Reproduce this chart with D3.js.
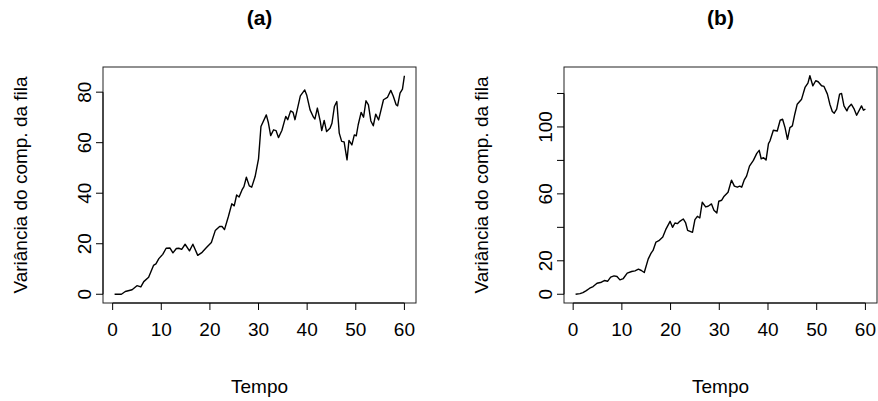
<!DOCTYPE html>
<html>
<head>
<meta charset="utf-8">
<script src="https://cdn.jsdelivr.net/npm/d3@7"></script>
<style>
  html, body { margin: 0; padding: 0; background: #fff; }
  svg { display: block; font-family: "Liberation Sans", Arial, Helvetica, sans-serif; }
</style>
</head>
<body>
<svg id="fig" width="878" height="401"></svg>
<script>
// Series (a): time and queue-length variance
const tempoA = [0.4, 1.8, 2.6, 4, 5, 5.8, 6.4, 7.4, 8.4, 8.9,
  9.5, 10.3, 11, 11.8, 12.4, 13.1, 13.6, 14.2, 14.9, 15.8,
  16.5, 17.5, 18.4, 19.2, 20.3, 21.1, 22, 22.5, 23, 23.8,
  24.5, 25, 25.5, 26, 26.6, 27, 27.5, 28.1, 28.6, 29.3,
  30, 30.5, 31.6, 32, 32.5, 33.1, 33.6, 34.1, 34.8, 35.6,
  36, 36.6, 37.1, 37.5, 38.6, 39.5, 39.9, 40.6, 41.3, 41.6,
  42.1, 42.7, 43, 43.5, 44, 44.7, 45.1, 45.6, 46.1, 46.6,
  47.1, 47.6, 48.2, 48.6, 49.2, 49.7, 50.1, 50.5, 51.1, 51.6,
  52.1, 52.6, 53.1, 53.6, 54.1, 54.7, 55.7, 56.5, 57.2, 57.7,
  58.3, 58.6, 59.1, 59.6, 60];
const varA = [0, 0, 1.1, 1.8, 3.4, 2.9, 5, 6.7, 11.4, 12,
  14.1, 15.8, 18.2, 18.3, 16.4, 18.1, 18.2, 17.8, 19.8, 17.2,
  19.8, 15.4, 16.6, 18.3, 20.5, 25.2, 26.8, 26.8, 25.6, 30.8,
  35.8, 35, 39.3, 38.5, 41.3, 42.6, 46.3, 42.9, 42.4, 46.6,
  53.6, 66.4, 71, 68.1, 62.8, 65.1, 64.8, 62, 64.8, 70.4,
  69.1, 72.6, 72, 69.1, 78.5, 80.9, 78.9, 73, 70.1, 69.4,
  73.7, 68.4, 64.8, 68.8, 64.4, 65.7, 67.7, 74.3, 76.3, 63.8,
  60.5, 60.3, 53.2, 60.9, 59.1, 63.1, 62.7, 67.1, 72, 70.1,
  76.6, 75, 68.6, 66.7, 71.3, 69, 77, 77.9, 80.7, 78.5,
  75, 74.6, 79.6, 81.2, 86.5];

// Series (b)
const tempoB = [0.5, 1.4, 2, 2.7, 3.4, 4.1, 4.9, 5.8, 6.4, 7.1,
  7.7, 8.4, 9, 9.6, 10.3, 11.1, 12, 12.7, 13.4, 14,
  14.6, 15.4, 16, 16.4, 17, 17.6, 18.4, 19, 19.9, 20.4,
  20.9, 21.4, 21.9, 22.6, 23.1, 23.5, 24.5, 25, 25.5, 26,
  26.5, 27.2, 27.7, 28.4, 28.9, 29.5, 29.9, 30.5, 31, 31.8,
  32.5, 33.1, 33.7, 34.2, 34.6, 35.1, 35.6, 36.2, 37, 37.7,
  38.2, 38.6, 39.1, 39.6, 40.1, 40.4, 41.1, 41.9, 42.5, 43,
  43.5, 44, 44.5, 45, 45.5, 46, 46.9, 47.6, 48.2, 48.6,
  49.2, 49.8, 50.3, 51, 51.5, 52.2, 52.7, 53.2, 53.6, 54.1,
  54.7, 55.1, 55.6, 56.2, 56.5, 57.1, 57.7, 58.2, 59.2, 59.6,
  60];
const varB = [0, 0.4, 1, 2.2, 3.6, 4.6, 6.6, 7.2, 8.2, 7.8,
  10.2, 11, 10.6, 8.6, 9.4, 12.6, 13.6, 14, 15, 14.2,
  13, 21, 24.6, 26.2, 31.2, 32, 34.2, 38.6, 43.6, 40,
  42.6, 42.2, 43.6, 45, 42.6, 38.2, 37, 44.6, 46.6, 45.6,
  55, 52.2, 52.6, 54, 50.2, 48.6, 55.6, 56.2, 58.6, 61,
  68.2, 64.6, 64, 64.6, 64, 68.2, 70.6, 76.6, 80, 84.2,
  86, 81, 81.6, 80.2, 90, 91.6, 98, 97.6, 104, 104.6,
  99.6, 92.6, 99.6, 100.6, 107.6, 113.6, 116.6, 123.6, 126.2, 130.6,
  124.6, 127.6, 127, 124.6, 124.2, 119.6, 113.6, 109.2, 108.2, 110.6,
  119.6, 120, 112.6, 109.6, 111.6, 113.6, 110.6, 107, 112.6, 110,
  110.6];

const xTicks = [0, 10, 20, 30, 40, 50, 60];
const yTicksA = [0, 20, 40, 60, 80];
const yTicksB = [0, 20, 40, 60, 80, 100, 120];
const yLabelsB = [0, 20, 60, 100];   // labels that fit without overlapping

const panels = [
  { title: "(a)", t: tempoA, v: varA, yTicks: yTicksA, yLabels: yTicksA, left: 103 },
  { title: "(b)", t: tempoB, v: varB, yTicks: yTicksB, yLabels: yLabelsB, left: 564 }
];

const svg = d3.select("#fig");
const boxW = 313, boxTop = 67, boxBottom = 303;
const tickLen = 7;
const ink = "#000";
const fs = 19;

// extend a domain by 4% on each side, like R's default axis style
function padded(lo, hi) {
  const d = (hi - lo) * 0.04;
  return [lo - d, hi + d];
}

panels.forEach(p => {
  const g = svg.append("g");
  const x = d3.scaleLinear().domain(padded(d3.min(p.t), d3.max(p.t))).range([p.left, p.left + boxW]);
  const y = d3.scaleLinear().domain(padded(d3.min(p.v), d3.max(p.v))).range([boxBottom, boxTop]);
  const cx = p.left + boxW / 2;

  // plot frame
  g.append("rect")
    .attr("x", p.left).attr("y", boxTop)
    .attr("width", boxW).attr("height", boxBottom - boxTop)
    .attr("fill", "none").attr("stroke", "#222").attr("stroke-width", 1);

  // series line
  const pts = p.t.map((t, i) => [t, p.v[i]]);
  g.append("path")
    .datum(pts)
    .attr("d", d3.line().x(d => x(d[0])).y(d => y(d[1])))
    .attr("fill", "none").attr("stroke", ink).attr("stroke-width", 1.4)
    .attr("stroke-linejoin", "round");

  // x axis
  const xa = g.append("g").attr("transform", `translate(0,${boxBottom})`);
  xa.append("line")
    .attr("x1", x(xTicks[0])).attr("x2", x(xTicks[xTicks.length - 1]))
    .attr("stroke", ink);
  xTicks.forEach(t => {
    xa.append("line").attr("x1", x(t)).attr("x2", x(t)).attr("y1", 0).attr("y2", tickLen).attr("stroke", ink);
    xa.append("text").attr("x", x(t)).attr("y", 33)
      .attr("text-anchor", "middle").attr("font-size", fs).text(t);
  });

  // y axis
  const ya = g.append("g").attr("transform", `translate(${p.left},0)`);
  ya.append("line")
    .attr("y1", y(p.yTicks[0])).attr("y2", y(p.yTicks[p.yTicks.length - 1]))
    .attr("stroke", ink);
  p.yTicks.forEach(v => {
    ya.append("line").attr("y1", y(v)).attr("y2", y(v)).attr("x1", 0).attr("x2", -tickLen).attr("stroke", ink);
  });
  p.yLabels.forEach(v => {
    ya.append("text")
      .attr("transform", `translate(-12,${y(v)}) rotate(-90)`)
      .attr("text-anchor", "middle").attr("font-size", fs).text(v);
  });

  // titles
  g.append("text").attr("x", cx).attr("y", 25)
    .attr("text-anchor", "middle").attr("font-size", 21).attr("font-weight", "bold").text(p.title);
  g.append("text").attr("x", cx).attr("y", 393)
    .attr("text-anchor", "middle").attr("font-size", fs).text("Tempo");
  g.append("text")
    .attr("transform", `translate(${p.left - 76},${(boxTop + boxBottom) / 2}) rotate(-90)`)
    .attr("text-anchor", "middle").attr("font-size", fs).text("Variância do comp. da fila");
});
</script>
</body>
</html>
